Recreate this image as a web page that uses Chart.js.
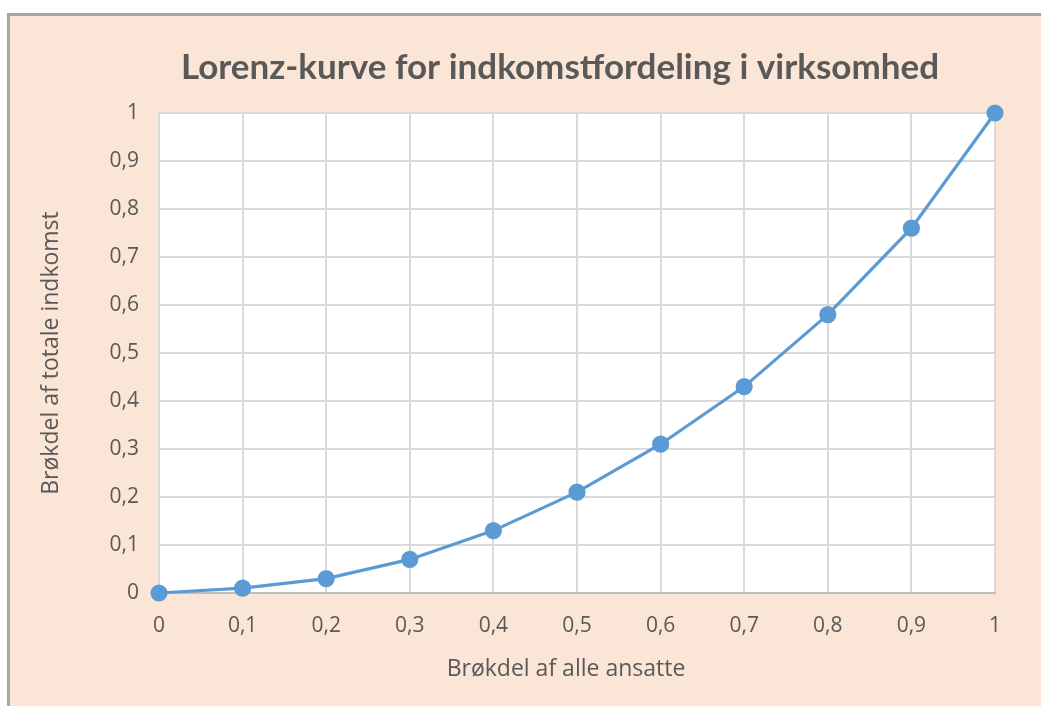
<!DOCTYPE html>
<html>
<head>
<meta charset="utf-8">
<script src="https://cdn.jsdelivr.net/npm/chart.js@4"></script>
<style>
  html, body { margin: 0; padding: 0; background: #fff; overflow: hidden; width: 1041px; height: 706px; }
  #frame { position: absolute; left: 7px; top: 13px; width: 1200px; height: 800px; background: #FBE5D6; border-top: 3px solid #A6A6A6; border-left: 3px solid #A6A6A6; }
  #lorenz { position: absolute; left: 0; top: 0; }
</style>
</head>
<body>
<div id="frame"></div>
<canvas id="lorenz" width="1041" height="706"></canvas>
<script>
Chart.defaults.color = "#595959";
Chart.defaults.font.family = "'Open Sans', sans-serif";

// andel af ansatte / andel af indkomst
const andelAnsatte = [0, 0.1, 0.2, 0.3, 0.4, 0.5, 0.6, 0.7, 0.8, 0.9, 1];
const andelIndkomst = [0, 0.01, 0.03, 0.07, 0.13, 0.21, 0.31, 0.43, 0.58, 0.76, 1];

const chartTitle = 'Lorenz-kurve for indkomstfordeling i virksomhed';
const xTitle = 'Brøkdel af alle ansatte';
const yTitle = 'Brøkdel af totale indkomst';

const komma = v => String(Math.round(v * 10) / 10).replace('.', ',');

// hvid plotflade
const plotBg = {
  id: 'plotBg',
  beforeDraw(chart) {
    const a = chart.chartArea;
    chart.ctx.save();
    chart.ctx.fillStyle = '#FFFFFF';
    chart.ctx.fillRect(a.left, a.top, a.right - a.left, a.bottom - a.top);
    chart.ctx.restore();
  }
};

// overskrift og x-titel, placeret som i Excel-rammen
const tekster = {
  id: 'tekster',
  afterDraw(chart) {
    const c = chart.ctx;
    c.save();
    c.fillStyle = '#595959';
    c.textAlign = 'center';
    c.textBaseline = 'middle';
    c.font = "bold 35px Lato, 'Open Sans', sans-serif";
    c.fillText(chartTitle, 560, 68);
    c.font = "23px 'Open Sans', sans-serif";
    c.fillText(xTitle, 566, 669);
    c.restore();
  }
};

let ctx = document.getElementById('lorenz');

const lorenz = new Chart(ctx, {
  type: 'line',
  data: {
    datasets: [{
      label: 'Lorenz',
      data: andelAnsatte.map((x, i) => ({ x: x, y: andelIndkomst[i] })),
      borderColor: '#5B9BD5',
      backgroundColor: '#5B9BD5',
      borderWidth: 3.2,
      pointRadius: 7,
      pointHoverRadius: 7,
      tension: 0,
      clip: false
    }]
  },
  options: {
    responsive: false,
    animation: false,
    layout: { padding: { left: 38, right: 46, top: 113, bottom: 21 } },
    plugins: {
      legend: { display: false },
      tooltip: { enabled: false },
      title: { display: false }
    },
    scales: {
      x: {
        type: 'linear',
        min: 0,
        max: 1,
        ticks: { stepSize: 0.1, callback: komma, font: { size: 21 }, padding: 20, maxRotation: 0 },
        grid: { color: '#D9D9D9', lineWidth: 2, drawTicks: false },
        border: { color: '#BFBFBF', width: 2 },
        title: { display: false },
        afterFit(scale) { scale.height = 92; }
      },
      y: {
        min: 0,
        max: 1,
        ticks: { stepSize: 0.1, callback: komma, font: { size: 21 }, padding: 20 },
        grid: { color: '#D9D9D9', lineWidth: 2, drawTicks: false },
        border: { color: '#D9D9D9', width: 2 },
        title: { display: true, text: yTitle, font: { size: 23 }, padding: { top: 0, bottom: 0 } },
        afterFit(scale) { scale.width = 121; }
      }
    }
  },
  plugins: [plotBg, tekster]
});
</script>
</body>
</html>
